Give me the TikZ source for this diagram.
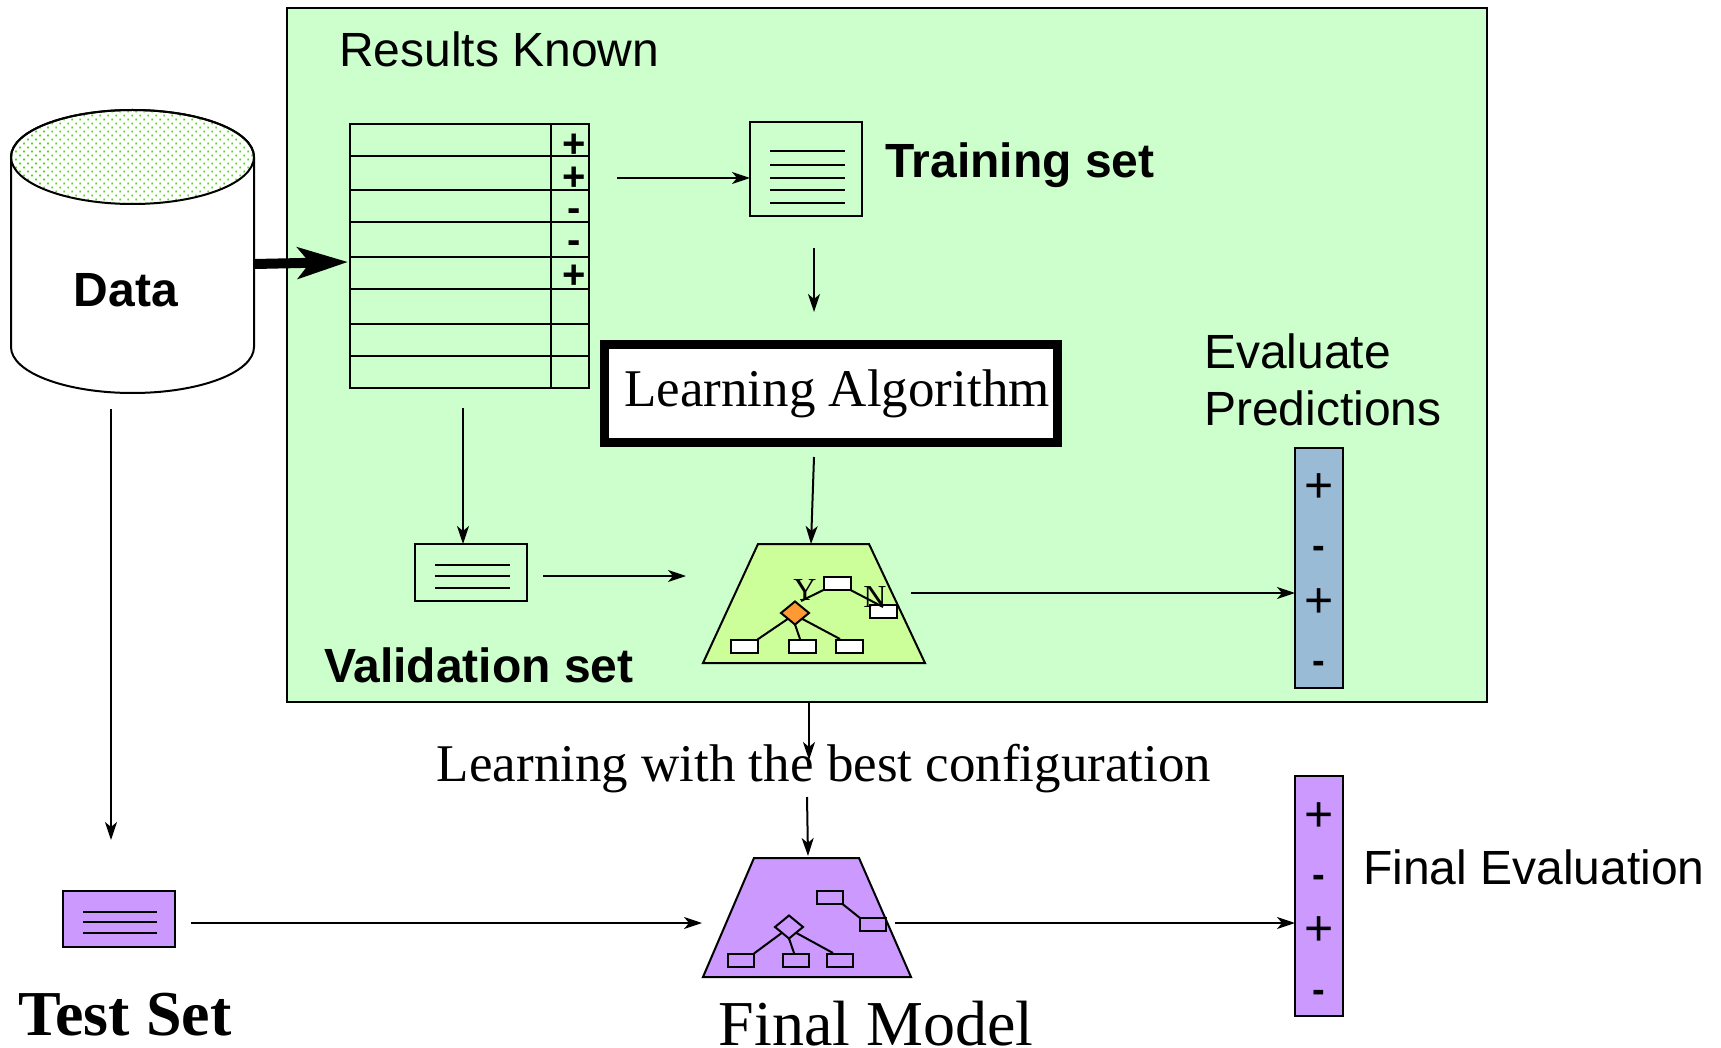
\documentclass[tikz,border=0pt]{standalone}
\usepackage{fontspec}
\setmainfont{Liberation Serif}
\setsansfont{Liberation Sans}
\usetikzlibrary{arrows.meta,patterns.meta,shapes.geometric}
\definecolor{boxgreen}{HTML}{CCFFCC}
\definecolor{treegreen}{HTML}{CCFF99}
\definecolor{testpurple}{HTML}{CC99FF}
\definecolor{predblue}{HTML}{99BBD6}
\definecolor{diamorange}{HTML}{FF9933}
\definecolor{dotgreen}{HTML}{44DD00}

\begin{document}
\begin{tikzpicture}[>={Stealth[width=12pt,length=18pt,inset=5pt]}, line width=2pt, line join=miter,
    every node/.style={inner sep=0pt, outer sep=0pt},
    row/.style={draw, minimum width=201pt, minimum height=#1},
    cell/.style={draw, minimum width=38pt, minimum height=#1},
    classmark/.style={font=\sffamily\bfseries\fontsize{40}{40}\selectfont},
    sign/.style={font=\sffamily\fontsize{50}{50}\selectfont},
    boldsign/.style={font=\sffamily\bfseries\fontsize{38}{38}\selectfont},
    doc/.style={draw, rectangle},
    leaf/.style={draw, fill=white, minimum width=27pt, minimum height=13pt},
    plainleaf/.style={draw, minimum width=26pt, minimum height=13pt},
    sanstext/.style={font=\sffamily\fontsize{48}{48}\selectfont},
    boldtext/.style={font=\sffamily\bfseries\fontsize{48}{48}\selectfont}]
  \useasboundingbox (0pt, 0pt) rectangle (1721pt, -1048pt);

  \draw (887pt, -355pt)node[draw, fill=boxgreen, minimum width=1200pt, minimum height=693pt](known){};
  \draw (339pt, -49pt)node[sanstext, anchor=west](knowntext){Results Known};

  % data cylinder
  \draw[fill=white] (11pt, -157pt) -- (11pt, -347pt) arc[start angle=180, end angle=360, x radius=121.5pt, y radius=46pt] -- (254pt, -157pt) arc[start angle=0, end angle=180, x radius=121.5pt, y radius=47pt];
  \path[pattern={Dots[distance=5.66pt, radius=1.1pt, angle=45]}, pattern color=dotgreen] (132.5pt, -157pt) ellipse[x radius=121.5pt, y radius=47pt];
  \draw (132.5pt, -157pt) ellipse[x radius=121.5pt, y radius=47pt];
  \draw (126pt, -290pt)node[boldtext](data){Data};

  % table
  \draw (450.5pt, -140pt)node[row=32pt](row1){};
  \draw (450.5pt, -173pt)node[row=34pt](row2){};
  \draw (450.5pt, -206pt)node[row=32pt](row3){};
  \draw (450.5pt, -239.5pt)node[row=35pt](row4){};
  \draw (450.5pt, -273pt)node[row=32pt](row5){};
  \draw (450.5pt, -306.5pt)node[row=35pt](row6){};
  \draw (450.5pt, -340pt)node[row=32pt](row7){};
  \draw (450.5pt, -372pt)node[row=32pt](row8){};
  \draw (570pt, -140pt)node[cell=32pt](cell1){};
  \draw (570pt, -173pt)node[cell=34pt](cell2){};
  \draw (570pt, -206pt)node[cell=32pt](cell3){};
  \draw (570pt, -239.5pt)node[cell=35pt](cell4){};
  \draw (570pt, -273pt)node[cell=32pt](cell5){};
  \draw (570pt, -306.5pt)node[cell=35pt](cell6){};
  \draw (570pt, -340pt)node[cell=32pt](cell7){};
  \draw (570pt, -372pt)node[cell=32pt](cell8){};
  \draw (574pt, -146pt)node[classmark](mark1){+};
  \draw (574pt, -179pt)node[classmark](mark2){+};
  \draw (574pt, -215pt)node[classmark](mark3){-};
  \draw (574pt, -247pt)node[classmark](mark4){-};
  \draw (574pt, -277pt)node[classmark](mark5){+};

  % training set
  \draw (806pt, -169pt)node[doc, minimum width=112pt, minimum height=94pt](train){};
  \draw (770pt, -151pt) -- (845pt, -151pt);
  \draw (770pt, -165pt) -- (845pt, -165pt);
  \draw (770pt, -178pt) -- (845pt, -178pt);
  \draw (770pt, -190pt) -- (845pt, -190pt);
  \draw (770pt, -203pt) -- (845pt, -203pt);
  \draw (885pt, -165pt)node[boldtext, anchor=west](traintext){Training set};

  % learning algorithm
  \draw (831pt, -393.5pt)node[draw, line width=9pt, fill=white, minimum width=453pt, minimum height=97pt](algo){};
  \draw (837pt, -394pt)node[font=\fontsize{53}{53}\selectfont](algotext){Learning Algorithm};

  % validation set
  \draw (471pt, -572.5pt)node[doc, minimum width=112pt, minimum height=57pt](valid){};
  \draw (435pt, -565pt) -- (510pt, -565pt);
  \draw (435pt, -576pt) -- (510pt, -576pt);
  \draw (435pt, -588pt) -- (510pt, -588pt);
  \draw (324pt, -665pt)node[boldtext, anchor=west](validtext){Validation set};

  % tree on validation set
  \draw[fill=treegreen] (758pt, -544pt) -- (869pt, -544pt) -- (925pt, -663pt) -- (703pt, -663pt) -- cycle;
  \draw (837pt, -583.5pt)node[leaf](t1){};
  \draw (883.5pt, -611pt)node[leaf](t2){};
  \draw (744pt, -646pt)node[leaf](t3){};
  \draw (802pt, -646pt)node[leaf](t4){};
  \draw (849pt, -646pt)node[leaf](t5){};
  \draw (795pt, -613pt)node[draw, diamond, fill=diamorange, minimum width=28pt, minimum height=23pt](d1){};
  \draw (805pt, -590pt)node[font=\fontsize{32}{32}\selectfont](yes){Y};
  \draw (875pt, -597pt)node[font=\fontsize{32}{32}\selectfont](no){N};
  \coordinate (y1) at (801pt, -601pt);
  \coordinate (n1) at (883pt, -607pt);
  \coordinate (l2) at (800pt, -639pt);
  \coordinate (l3) at (840pt, -639pt);
  \draw (t1.south west) -- (y1);
  \draw (t1.south east) -- (n1);
  \draw (d1.south west) -- (t3.north east);
  \draw (d1.south) -- (l2);
  \draw (d1.south east) -- (l3);

  % evaluate predictions
  \draw (1319pt, -568pt)node[draw, fill=predblue, minimum width=48pt, minimum height=240pt](pred){};
  \draw (1319pt, -488pt)node[sign](p1){+};
  \draw (1319pt, -552pt)node[boldsign](p2){-};
  \draw (1319pt, -603pt)node[sign](p3){+};
  \draw (1319pt, -667pt)node[boldsign](p4){-};
  \draw (1204pt, -351pt)node[sanstext, anchor=west](evaltop){Evaluate};
  \draw (1204pt, -408pt)node[sanstext, anchor=west](evalbot){Predictions};

  % final part
  \draw (824pt, -769pt)node[font=\fontsize{53}{53}\selectfont](best){Learning with the best configuration};
  \draw[fill=testpurple] (754pt, -858pt) -- (859pt, -858pt) -- (911pt, -977pt) -- (703pt, -977pt) -- cycle;
  \draw (829.5pt, -897.5pt)node[plainleaf](f1){};
  \draw (873pt, -924.5pt)node[plainleaf](f2){};
  \draw (741pt, -960pt)node[plainleaf](f3){};
  \draw (796pt, -960pt)node[plainleaf](f4){};
  \draw (840pt, -960pt)node[plainleaf](f5){};
  \draw (789pt, -927pt)node[draw, diamond, minimum width=28pt, minimum height=23pt](d2){};
  \coordinate (m2) at (794pt, -953pt);
  \coordinate (m3) at (833pt, -953pt);
  \draw (f1.south east) -- (f2.north west);
  \draw (d2.south west) -- (f3.north east);
  \draw (d2.south) -- (m2);
  \draw (d2.south east) -- (m3);
  \draw (876pt, -1024pt)node[font=\fontsize{64}{64}\selectfont](final){Final Model};

  \draw (119pt, -918.5pt)node[doc, fill=testpurple, minimum width=112pt, minimum height=56pt](test){};
  \draw (83pt, -912pt) -- (157pt, -912pt);
  \draw (83pt, -922pt) -- (157pt, -922pt);
  \draw (83pt, -933pt) -- (157pt, -933pt);
  \draw (125pt, -1015pt)node[font=\bfseries\fontsize{64}{64}\selectfont](testtext){Test Set};

  \draw (1319pt, -896pt)node[draw, fill=testpurple, minimum width=48pt, minimum height=240pt](fin){};
  \draw (1319pt, -817pt)node[sign](q1){+};
  \draw (1319pt, -881pt)node[boldsign](q2){-};
  \draw (1319pt, -931pt)node[sign](q3){+};
  \draw (1319pt, -996pt)node[boldsign](q4){-};
  \draw (1363pt, -867pt)node[sanstext, anchor=west](fintext){Final Evaluation};

  % free ends of the arrows
  \coordinate (a1) at (255pt, -264pt);
  \coordinate (a2) at (348pt, -262pt);
  \coordinate (a3) at (617pt, -178pt);
  \coordinate (a4) at (814pt, -248pt);
  \coordinate (a5) at (814pt, -312pt);
  \coordinate (a6) at (814pt, -457pt);
  \coordinate (a7) at (811pt, -544pt);
  \coordinate (a8) at (463pt, -408pt);
  \coordinate (a9) at (543pt, -576pt);
  \coordinate (a10) at (686pt, -576pt);
  \coordinate (a11) at (911pt, -593pt);
  \coordinate (a12) at (809pt, -702pt);
  \coordinate (a13) at (809pt, -760pt);
  \coordinate (a14) at (807pt, -797pt);
  \coordinate (a15) at (808pt, -856pt);
  \coordinate (a16) at (111pt, -409pt);
  \coordinate (a17) at (111pt, -840pt);
  \coordinate (a18) at (191pt, -923pt);
  \coordinate (a19) at (702pt, -923pt);
  \coordinate (a20) at (895pt, -923pt);

  \path[-{Stealth[width=31pt,length=50pt,inset=12pt]}, line width=10pt] (a1) edge (a2);
  \path[->] (a3) edge (train.west |- a3);
  \path[->] (a4) edge (a5);
  \path[->] (a6) edge (a7);
  \path[->] (a8) edge (valid.north -| a8);
  \path[->] (a9) edge (a10);
  \path[->] (a11) edge (pred.west |- a11);
  \path[->] (a12) edge (a13);
  \path[->] (a14) edge (a15);
  \path[->] (a16) edge (a17);
  \path[->] (a18) edge (a19);
  \path[->] (a20) edge (fin.west |- a20);
\end{tikzpicture}
\end{document}
